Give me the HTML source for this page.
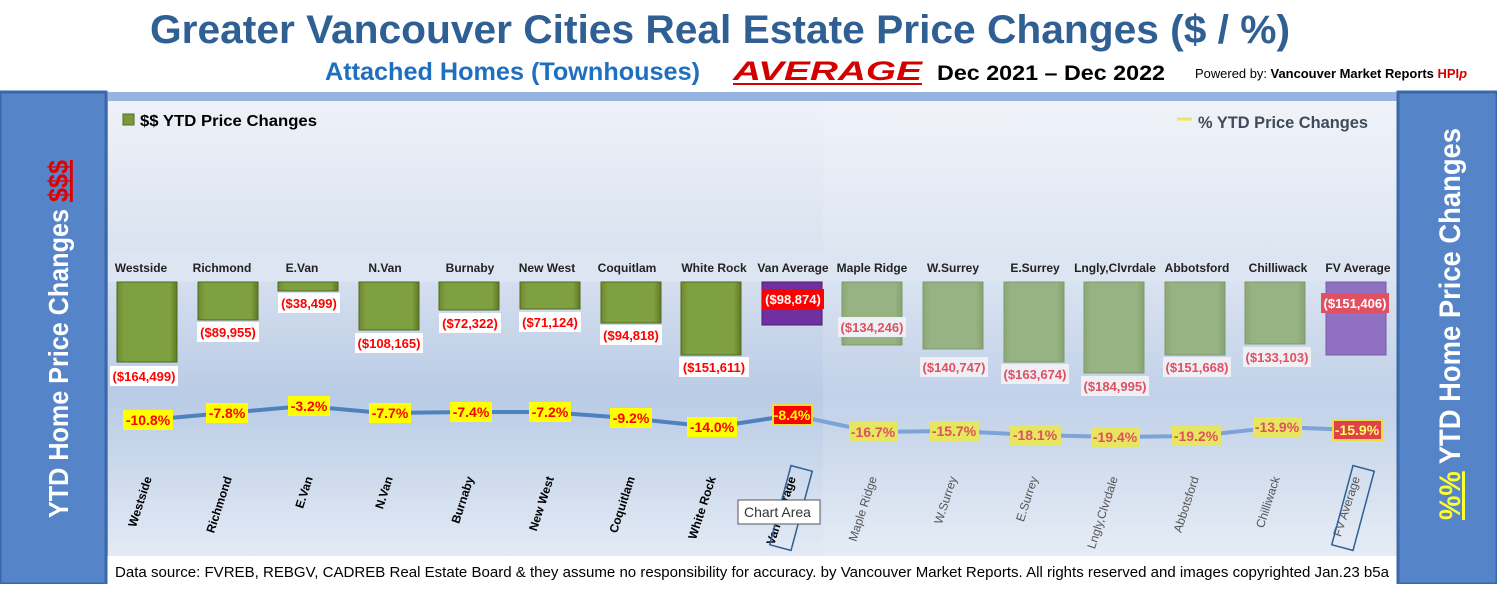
<!DOCTYPE html>
<html><head><meta charset="utf-8"><style>
body{margin:0;width:1497px;height:584px;overflow:hidden;background:#fff;font-family:"Liberation Sans",sans-serif}
</style></head><body>
<svg width="1497" height="584" xmlns="http://www.w3.org/2000/svg" font-family="Liberation Sans, sans-serif">
<defs>
<linearGradient id="bg" x1="0" y1="0" x2="0" y2="1">
<stop offset="0" stop-color="#eef1f8"/><stop offset="0.35" stop-color="#d9e2f0"/><stop offset="0.65" stop-color="#b9cbe5"/><stop offset="1" stop-color="#e3eaf5"/></linearGradient>
<linearGradient id="gb" x1="0" y1="0" x2="1" y2="0"><stop offset="0" stop-color="#6e8a2e"/><stop offset="0.12" stop-color="#7fa040"/><stop offset="0.88" stop-color="#7fa040"/><stop offset="1" stop-color="#5f7a25"/></linearGradient>
<linearGradient id="lb" x1="0" y1="0" x2="1" y2="0"><stop offset="0" stop-color="#8aa874"/><stop offset="0.12" stop-color="#97b383"/><stop offset="0.88" stop-color="#97b383"/><stop offset="1" stop-color="#86a270"/></linearGradient>
</defs>
<text x="720" y="43" text-anchor="middle" font-size="40" font-weight="bold" fill="#2f5f93" textLength="1140" lengthAdjust="spacingAndGlyphs">Greater Vancouver Cities Real Estate Price Changes ($ / %)</text>
<text x="325" y="80" font-size="25" font-weight="bold" fill="#1f6fc0" textLength="375" lengthAdjust="spacingAndGlyphs">Attached Homes (Townhouses)</text>
<text x="733" y="80" font-size="27" font-weight="bold" font-style="italic" fill="#d40000" textLength="189" lengthAdjust="spacingAndGlyphs">AVERAGE</text>
<line x1="733" y1="84" x2="922" y2="84" stroke="#d40000" stroke-width="2"/>
<text x="937" y="80" font-size="21" font-weight="bold" fill="#000" textLength="228" lengthAdjust="spacingAndGlyphs">Dec 2021 – Dec 2022</text>
<text x="1195" y="78" font-size="13" fill="#000" textLength="272" lengthAdjust="spacingAndGlyphs">Powered by: <tspan font-weight="bold">Vancouver Market Reports</tspan> <tspan font-weight="bold" fill="#d40000">HPI<tspan font-style="italic">p</tspan></tspan></text>
<rect x="106" y="92" width="1292" height="464" fill="#97b3e0"/>
<rect x="108" y="101" width="1289" height="455" fill="url(#bg)"/>
<rect x="823" y="101" width="574" height="455" fill="#ffffff" opacity="0.12"/>
<rect x="108" y="252" width="1289" height="30" fill="#dde5f2"/>
<rect x="108" y="556" width="1289" height="28" fill="#fff"/>
<rect x="0" y="92" width="106" height="492" fill="#5585c8" stroke="#3a68a8" stroke-width="3"/>
<rect x="1398" y="92" width="99" height="492" fill="#5585c8" stroke="#3a68a8" stroke-width="3"/>
<text transform="translate(68,518) rotate(-90)" font-size="28" font-weight="bold" fill="#fff" textLength="358" lengthAdjust="spacingAndGlyphs">YTD Home Price Changes <tspan fill="#e00000" text-decoration="underline">$$$</tspan></text>
<text transform="translate(1460,520) rotate(-90)" font-size="30" font-weight="bold" fill="#fff" textLength="392" lengthAdjust="spacingAndGlyphs"><tspan fill="#ffff30" text-decoration="underline">%%</tspan> YTD Home Price  Changes</text>
<rect x="123" y="114" width="11" height="11" fill="#7a9a3a" stroke="#556b22"/>
<text x="140" y="126" font-size="16" font-weight="bold" fill="#000" textLength="177" lengthAdjust="spacingAndGlyphs">$$ YTD Price Changes</text>
<line x1="1177" y1="119" x2="1192" y2="119" stroke="#e8e860" stroke-width="3"/>
<text x="1198" y="128" font-size="17" font-weight="bold" fill="#404a5a" textLength="170" lengthAdjust="spacingAndGlyphs">% YTD Price Changes</text>

<g font-size="12" font-weight="bold" fill="#222" text-anchor="middle">
<text x="141" y="272">Westside</text><text x="222" y="272">Richmond</text><text x="302" y="272">E.Van</text><text x="385" y="272">N.Van</text><text x="470" y="272">Burnaby</text><text x="547" y="272">New West</text><text x="627" y="272">Coquitlam</text><text x="714" y="272">White Rock</text><text x="793" y="272">Van Average</text><text x="872" y="272">Maple Ridge</text><text x="953" y="272">W.Surrey</text><text x="1035" y="272">E.Surrey</text><text x="1115" y="272">Lngly,Clvrdale</text><text x="1197" y="272">Abbotsford</text><text x="1278" y="272">Chilliwack</text><text x="1358" y="272">FV Average</text>
</g>

<g stroke="#4f6620" stroke-width="1" fill="url(#gb)">
<rect x="117" y="282" width="60" height="80"/>
<rect x="198" y="282" width="60" height="38"/>
<rect x="278" y="282" width="60" height="9"/>
<rect x="359" y="282" width="60" height="48"/>
<rect x="439" y="282" width="60" height="28"/>
<rect x="520" y="282" width="60" height="27"/>
<rect x="601" y="282" width="60" height="41"/>
<rect x="681" y="282" width="60" height="73"/>
</g>
<rect x="762" y="282" width="60" height="43" fill="#7030a0" stroke="#4a1a70"/>
<g stroke="#7e9a6a" stroke-width="1" fill="url(#lb)">
<rect x="842" y="282" width="60" height="63"/>
<rect x="923" y="282" width="60" height="67"/>
<rect x="1004" y="282" width="60" height="80"/>
<rect x="1084" y="282" width="60" height="91"/>
<rect x="1165" y="282" width="60" height="73"/>
<rect x="1245" y="282" width="60" height="62"/>
</g>
<rect x="1326" y="282" width="60" height="73" fill="#9070c0" stroke="#7a5aa8"/>

<g font-size="13" font-weight="bold" text-anchor="middle">
<rect x="110" y="366" width="68" height="20" fill="#fff"/><text x="144" y="381" fill="#ff0000">($164,499)</text>
<rect x="197" y="322" width="62" height="20" fill="#fff"/><text x="228" y="337" fill="#ff0000">($89,955)</text>
<rect x="278" y="293" width="62" height="20" fill="#fff"/><text x="309" y="308" fill="#ff0000">($38,499)</text>
<rect x="355" y="333" width="68" height="20" fill="#fff"/><text x="389" y="348" fill="#ff0000">($108,165)</text>
<rect x="439" y="313" width="62" height="20" fill="#fff"/><text x="470" y="328" fill="#ff0000">($72,322)</text>
<rect x="519" y="312" width="62" height="20" fill="#fff"/><text x="550" y="327" fill="#ff0000">($71,124)</text>
<rect x="600" y="325" width="62" height="20" fill="#fff"/><text x="631" y="340" fill="#ff0000">($94,818)</text>
<rect x="679" y="357" width="70" height="20" fill="#fff"/><text x="714" y="372" fill="#ff0000">($151,611)</text>
<rect x="762" y="289" width="62" height="20" fill="#ff0000"/><text x="793" y="304" fill="#fff">($98,874)</text>
<rect x="838" y="317" width="68" height="20" fill="#eef0f6"/><text x="872" y="332" fill="#e05060">($134,246)</text>
<rect x="920" y="357" width="68" height="20" fill="#eef0f6"/><text x="954" y="372" fill="#e05060">($140,747)</text>
<rect x="1001" y="364" width="68" height="20" fill="#eef0f6"/><text x="1035" y="379" fill="#e05060">($163,674)</text>
<rect x="1081" y="376" width="68" height="20" fill="#eef0f6"/><text x="1115" y="391" fill="#e05060">($184,995)</text>
<rect x="1163" y="357" width="68" height="20" fill="#eef0f6"/><text x="1197" y="372" fill="#e05060">($151,668)</text>
<rect x="1243" y="347" width="68" height="20" fill="#eef0f6"/><text x="1277" y="362" fill="#e05060">($133,103)</text>
<rect x="1321" y="293" width="68" height="20" fill="#e05060"/><text x="1355" y="308" fill="#fff">($151,406)</text>
</g>

<polyline points="147,420 225,413 305,406 384,413 470,412 547,412 627,418 714,427 793,415" fill="none" stroke="#4f81bd" stroke-width="4"/>
<polyline points="793,415 873,432 953,431 1035,435 1115,437 1197,436 1278,427 1356,430" fill="none" stroke="#7ea3d6" stroke-width="4"/>

<g font-size="14" font-weight="bold" text-anchor="middle">
<rect x="123" y="410" width="50" height="20" fill="#ffff00"/><text x="148" y="425" fill="#ff0000">-10.8%</text>
<rect x="206" y="403" width="42" height="20" fill="#ffff00"/><text x="227" y="418" fill="#ff0000">-7.8%</text>
<rect x="288" y="396" width="42" height="20" fill="#ffff00"/><text x="309" y="411" fill="#ff0000">-3.2%</text>
<rect x="369" y="403" width="42" height="20" fill="#ffff00"/><text x="390" y="418" fill="#ff0000">-7.7%</text>
<rect x="450" y="402" width="42" height="20" fill="#ffff00"/><text x="471" y="417" fill="#ff0000">-7.4%</text>
<rect x="529" y="402" width="42" height="20" fill="#ffff00"/><text x="550" y="417" fill="#ff0000">-7.2%</text>
<rect x="610" y="408" width="42" height="20" fill="#ffff00"/><text x="631" y="423" fill="#ff0000">-9.2%</text>
<rect x="687" y="417" width="50" height="20" fill="#ffff00"/><text x="712" y="432" fill="#ff0000">-14.0%</text>
<rect x="773" y="405" width="39" height="20" fill="#ff0000" stroke="#e6e040" stroke-width="2"/><text x="792" y="420" fill="#ffff00">-8.4%</text>
<rect x="849" y="422" width="49" height="20" fill="#e6e660"/><text x="873" y="437" fill="#e05060">-16.7%</text>
<rect x="930" y="421" width="49" height="20" fill="#e6e660"/><text x="954" y="436" fill="#e05060">-15.7%</text>
<rect x="1010" y="425" width="51" height="20" fill="#e6e660"/><text x="1035" y="440" fill="#e05060">-18.1%</text>
<rect x="1091" y="427" width="49" height="20" fill="#e6e660"/><text x="1115" y="442" fill="#e05060">-19.4%</text>
<rect x="1172" y="426" width="49" height="20" fill="#e6e660"/><text x="1196" y="441" fill="#e05060">-19.2%</text>
<rect x="1253" y="417" width="49" height="20" fill="#e6e660"/><text x="1277" y="432" fill="#e05060">-13.9%</text>
<rect x="1333" y="420" width="49" height="20" fill="#e04050" stroke="#e6e040" stroke-width="2"/><text x="1357" y="435" fill="#ffff60">-15.9%</text>
</g>

<g font-size="12" font-weight="bold" fill="#000" text-anchor="end">
<text transform="translate(152,478) rotate(-72)">Westside</text>
<text transform="translate(232,478) rotate(-72)">Richmond</text>
<text transform="translate(313,478) rotate(-72)">E.Van</text>
<text transform="translate(393,478) rotate(-72)">N.Van</text>
<text transform="translate(474,478) rotate(-72)">Burnaby</text>
<text transform="translate(554,478) rotate(-72)">New West</text>
<text transform="translate(635,478) rotate(-72)">Coquitlam</text>
<text transform="translate(716,478) rotate(-72)">White Rock</text>
<text transform="translate(796,478) rotate(-72)">Van Average</text>
</g>
<g font-size="12" fill="#555" text-anchor="end">
<text transform="translate(877,478) rotate(-72)">Maple Ridge</text>
<text transform="translate(957,478) rotate(-72)">W.Surrey</text>
<text transform="translate(1038,478) rotate(-72)">E.Surrey</text>
<text transform="translate(1118,478) rotate(-72)">Lngly,Clvrdale</text>
<text transform="translate(1199,478) rotate(-72)">Abbotsford</text>
<text transform="translate(1280,478) rotate(-72)">Chilliwack</text>
<text transform="translate(1360,478) rotate(-72)">FV Average</text>
</g>
<rect x="780" y="467" width="22" height="82" fill="none" stroke="#2f5f93" stroke-width="1.5" transform="rotate(15 791 508)"/>
<rect x="1342" y="467" width="22" height="82" fill="none" stroke="#2f5f93" stroke-width="1.5" transform="rotate(15 1353 508)"/>
<rect x="738" y="500" width="82" height="24" fill="#fff" stroke="#555"/><text x="744" y="517" font-size="14" fill="#333">Chart Area</text>

<text x="115" y="577" font-size="15" fill="#000" textLength="1274" lengthAdjust="spacingAndGlyphs">Data source: FVREB, REBGV, CADREB Real Estate Board &amp; they assume no responsibility for accuracy. by Vancouver Market Reports. All rights reserved and  images copyrighted Jan.23 b5a</text>
</svg>
</body></html>
